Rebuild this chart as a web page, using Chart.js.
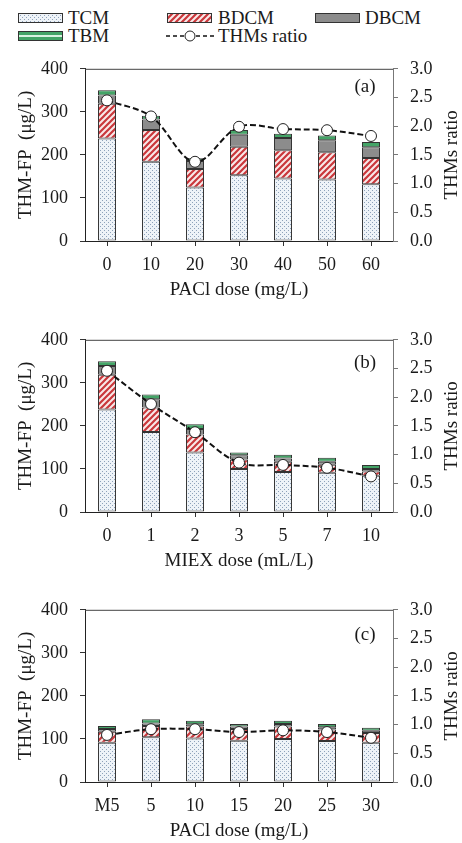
<!DOCTYPE html>
<html>
<head>
<meta charset="utf-8">
<script src="https://cdn.jsdelivr.net/npm/chart.js@4.4.0/dist/chart.umd.min.js"></script>
<style>
  html, body { margin:0; padding:0; background:#fff; }
  body { width:462px; height:843px; position:relative; overflow:hidden; font-family:"Liberation Serif", "Times New Roman", serif; color:#1a1a1a; }
  .panel { position:absolute; left:0; width:462px; height:255px; }
  .lg-text { position:absolute; font-size:19px; line-height:20px; white-space:nowrap; }
  .lg-sw { position:absolute; }
</style>
</head>
<body>
<canvas class="lg-sw" id="swTCM" width="45" height="10" style="left:18px;top:13px"></canvas>
<span class="lg-text" style="left:68px;top:8px">TCM</span>
<canvas class="lg-sw" id="swBDCM" width="45" height="10" style="left:167px;top:13px"></canvas>
<span class="lg-text" style="left:218px;top:8px">BDCM</span>
<canvas class="lg-sw" id="swDBCM" width="45" height="10" style="left:315px;top:13px"></canvas>
<span class="lg-text" style="left:365px;top:8px">DBCM</span>
<canvas class="lg-sw" id="swTBM" width="45" height="10" style="left:18px;top:31px"></canvas>
<span class="lg-text" style="left:68px;top:26px">TBM</span>
<canvas class="lg-sw" id="swRatio" width="48" height="14" style="left:166px;top:29px"></canvas>
<span class="lg-text" style="left:218px;top:26px">THMs ratio</span>

<div class="panel" style="top:46px"><canvas id="chartA" width="462" height="255"></canvas></div>
<div class="panel" style="top:317px"><canvas id="chartB" width="462" height="255"></canvas></div>
<div class="panel" style="top:587px"><canvas id="chartC" width="462" height="255"></canvas></div>

<script>
// ---- Data ----
const catsA  = ['0','10','20','30','40','50','60'];
const tcmA   = [238,184,124,153,145,143,132];
const bdcmA  = [81,74,43,66,66,63,61];
const dbcmA  = [19,24,19,28,28,28,25];
const tbmA   = [12,9,6,11,10,11,12];
const ratioA = [2.45,2.17,1.38,1.99,1.95,1.93,1.83];

const catsB  = ['0','1','2','3','5','7','10'];
const tcmB   = [238,186,138,100,93,91,84];
const bdcmB  = [81,57,42,22,24,19,10];
const dbcmB  = [20,19,13,10,7,7,6];
const tbmB   = [11,11,11,6,9,9,9];
const ratioB = [2.46,1.88,1.39,0.86,0.82,0.77,0.62];

const catsC  = ['M5','5','10','15','20','25','30'];
const tcmC   = [91,104,101,96,100,95,91];
const bdcmC  = [26,26,28,27,29,27,23];
const dbcmC  = [6,6,5,6,6,5,5];
const tbmC   = [7,10,8,6,7,8,7];
const ratioC = [0.82,0.92,0.92,0.87,0.90,0.87,0.77];

const leftTicks  = [0,100,200,300,400];
const rightTicks = [0,0.5,1,1.5,2,2.5,3];

// ---- Styles ----
const FONT = '"Liberation Serif", "Times New Roman", serif';
const TXT = '#1a1a1a';
const EDGE = '#333333';

function dotPattern() {
  const c = document.createElement('canvas'); c.width = 4; c.height = 4;
  const g = c.getContext('2d');
  g.fillStyle = '#eef3f8'; g.fillRect(0,0,4,4);
  g.fillStyle = '#8ea2ba'; g.fillRect(0,0,1,1); g.fillRect(2,2,1,1);
  return g.createPattern(c, 'repeat');
}
function hatchPattern() {
  const s = 6;
  const c = document.createElement('canvas'); c.width = s; c.height = s;
  const g = c.getContext('2d');
  g.fillStyle = '#f8e9e9'; g.fillRect(0,0,s,s);
  g.strokeStyle = '#c9373b'; g.lineWidth = 2.2;
  g.beginPath();
  g.moveTo(-s/2, s/2); g.lineTo(s/2, -s/2);
  g.moveTo(0, s); g.lineTo(s, 0);
  g.moveTo(s/2, s*1.5); g.lineTo(s*1.5, s/2);
  g.stroke();
  return g.createPattern(c, 'repeat');
}
const TCM_FILL = dotPattern();
const BDCM_FILL = hatchPattern();
const DBCM_FILL = '#8c8c8c';
const TBM_FILL = '#44a467';

// ---- Legend swatches ----
(function legend(){
  function box(id, fill) {
    const g = document.getElementById(id).getContext('2d');
    g.fillStyle = fill; g.fillRect(0,0,45,10);
    g.strokeStyle = EDGE; g.lineWidth = 1; g.strokeRect(0.5,0.5,44,9);
    return g;
  }
  box('swTCM', dotPattern());
  box('swBDCM', hatchPattern());
  box('swDBCM', DBCM_FILL);
  const g = box('swTBM', TBM_FILL);
  g.fillStyle = '#d9f2e1'; g.fillRect(1,4,43,2);
  const r = document.getElementById('swRatio').getContext('2d');
  r.strokeStyle = '#111'; r.lineWidth = 1.6; r.setLineDash([4,3]);
  r.beginPath(); r.moveTo(0,7); r.lineTo(18,7); r.moveTo(30,7); r.lineTo(48,7); r.stroke();
  r.setLineDash([]);
  r.fillStyle = '#fff'; r.strokeStyle = '#222'; r.lineWidth = 1;
  r.beginPath(); r.arc(24,7,5,0,Math.PI*2); r.fill(); r.stroke();
})();

// ---- Plugins ----
const framePlugin = {
  id: 'frame',
  afterDraw(chart, args, opts) {
    const {ctx, chartArea:a} = chart;
    ctx.save();
    ctx.strokeStyle = '#444'; ctx.lineWidth = 1;
    ctx.beginPath(); ctx.moveTo(a.left, a.top + 0.5); ctx.lineTo(a.right, a.top + 0.5); ctx.stroke();
    // panel label
    ctx.fillStyle = TXT;
    ctx.font = '19px ' + FONT;
    ctx.textAlign = 'center'; ctx.textBaseline = 'middle';
    ctx.fillText(opts.label, a.right - 28, a.top + opts.labelDy);
    // right-axis title (reads bottom to top)
    ctx.translate(452, (a.top + a.bottom) / 2);
    ctx.rotate(-Math.PI / 2);
    ctx.fillText('THMs ratio', 0, 0);
    ctx.restore();
  }
};

function makePanel(id, cats, tcm, bdcm, dbcm, tbm, ratio, xTitle, label, labelDy) {
  const barCommon = { borderColor: EDGE, borderWidth: 1, borderSkipped: false,
    barPercentage: 0.41, categoryPercentage: 1, yAxisID: 'y', order: 1, stack: 's' };
  return new Chart(document.getElementById(id), {
    data: {
      labels: cats,
      datasets: [
        Object.assign({ type:'bar', label:'TCM',  data:tcm,  backgroundColor:TCM_FILL }, barCommon),
        Object.assign({ type:'bar', label:'BDCM', data:bdcm, backgroundColor:BDCM_FILL }, barCommon),
        Object.assign({ type:'bar', label:'DBCM', data:dbcm, backgroundColor:DBCM_FILL }, barCommon),
        Object.assign({ type:'bar', label:'TBM',  data:tbm,  backgroundColor:TBM_FILL }, barCommon),
        { type:'line', label:'THMs ratio', data:ratio, yAxisID:'y1', order:0,
          borderColor:'#111', borderWidth:2, borderDash:[6,3], tension:0.35,
          pointRadius:5.5, pointBackgroundColor:'#fff', pointBorderColor:'#222', pointBorderWidth:1, fill:false }
      ]
    },
    options: {
      responsive:false, animation:false,
      layout: { padding: { top:15, left:0, right:0, bottom:0 } },
      plugins: { legend:{display:false}, tooltip:{enabled:false}, frame:{label, labelDy} },
      scales: {
        x: {
          stacked:true, offset:true,
          grid: { display:true, drawOnChartArea:false, offset:false, tickLength:5, color:'#333' },
          border: { color:'#222', width:1 },
          ticks: { font:{family:FONT, size:18}, color:TXT, padding:8, maxRotation:0 },
          title: { display:true, text:xTitle, font:{family:FONT, size:19}, color:TXT, padding:{top:0,bottom:0} },
          afterFit(s) { s.height = 60; }
        },
        y: {
          stacked:true, position:'left', min:0, max:400,
          afterBuildTicks(s) { s.ticks = leftTicks.map(v => ({value:v})); },
          grid: { drawOnChartArea:false, tickLength:5, color:'#333' },
          border: { color:'#222', width:1 },
          ticks: { font:{family:FONT, size:18}, color:TXT, padding:12 },
          title: { display:true, text:'THM-FP  (μg/L)', font:{family:FONT, size:19}, color:TXT, padding:{top:15,bottom:0} },
          afterFit(s) { s.width = 85; }
        },
        y1: {
          position:'right', min:0, max:3,
          afterBuildTicks(s) { s.ticks = rightTicks.map(v => ({value:v})); },
          grid: { drawOnChartArea:false, tickLength:5, color:'#777' },
          border: { color:'#777', width:1 },
          ticks: { font:{family:FONT, size:18}, color:TXT, padding:12, callback:v => Number(v).toFixed(1) },
          afterFit(s) { s.width = 69; }
        }
      }
    },
    plugins: [framePlugin]
  });
}

makePanel('chartA', catsA, tcmA, bdcmA, dbcmA, tbmA, ratioA, 'PACl dose (mg/L)', '(a)', 18);
makePanel('chartB', catsB, tcmB, bdcmB, dbcmB, tbmB, ratioB, 'MIEX dose (mL/L)', '(b)', 23);
makePanel('chartC', catsC, tcmC, bdcmC, dbcmC, tbmC, ratioC, 'PACl dose (mg/L)', '(c)', 25);
</script>
</body>
</html>
